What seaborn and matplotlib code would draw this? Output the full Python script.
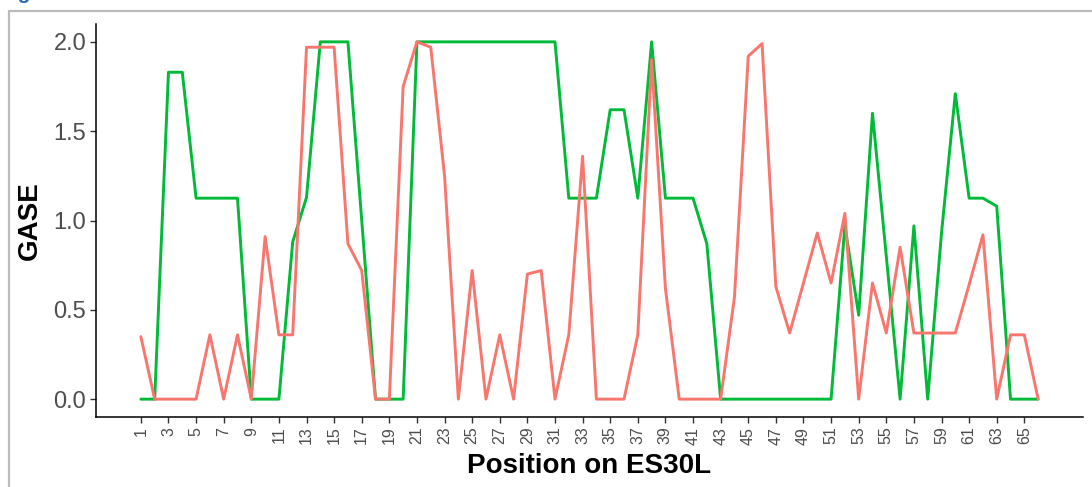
import numpy as np
import pandas as pd
import matplotlib
matplotlib.use("Agg")
import matplotlib.pyplot as plt
from matplotlib.lines import Line2D
import seaborn as sns

# ---- data -------------------------------------------------------------
positions = list(range(1, 67))

green_values = [
    0, 0, 1.83, 1.83, 1.125, 1.125, 1.125, 1.125, 0, 0,          # 1-10
    0, 0.88, 1.13, 2.0, 2.0, 2.0, 1.0, 0, 0, 0,                  # 11-20
    2.0, 2.0, 2.0, 2.0, 2.0, 2.0, 2.0, 2.0, 2.0, 2.0,            # 21-30
    2.0, 1.125, 1.125, 1.125, 1.62, 1.62, 1.125, 2.0, 1.125, 1.125,  # 31-40
    1.125, 0.87, 0, 0, 0, 0, 0, 0, 0, 0,                         # 41-50
    0, 0.97, 0.47, 1.60, 0.80, 0, 0.97, 0, 0.93, 1.71,           # 51-60
    1.125, 1.125, 1.08, 0, 0, 0,                                 # 61-66
]

red_values = [
    0.35, 0, 0, 0, 0, 0.36, 0, 0.36, 0, 0.91,                    # 1-10
    0.36, 0.36, 1.97, 1.97, 1.97, 0.87, 0.72, 0, 0, 1.75,        # 11-20
    2.0, 1.97, 1.25, 0, 0.72, 0, 0.36, 0, 0.70, 0.72,            # 21-30
    0, 0.36, 1.36, 0, 0, 0, 0.36, 1.90, 0.62, 0,                 # 31-40
    0, 0, 0, 0.57, 1.92, 1.99, 0.63, 0.37, 0.65, 0.93,           # 41-50
    0.65, 1.04, 0, 0.65, 0.37, 0.85, 0.37, 0.37, 0.37, 0.37,     # 51-60
    0.64, 0.92, 0, 0.36, 0.36, 0,                                # 61-66
]

series_names = ["Series 1", "Series 2"]
x_tick_labels = [str(v) for v in range(1, 67, 2)]
y_ticks = [0.0, 0.5, 1.0, 1.5, 2.0]
x_label = "Position on ES30L"
y_label = "GASE"

df = pd.DataFrame({
    "Position": positions * 2,
    "GASE": green_values + red_values,
    "Series": [series_names[0]] * len(positions) + [series_names[1]] * len(positions),
})

# ---- style --------------------------------------------------------------
sns.set_theme(style="white")
plt.rcParams["font.family"] = ["Liberation Sans", "DejaVu Sans"]

fig = plt.figure(figsize=(10.92, 4.87), dpi=100)
ax = fig.add_axes([96 / 1092, 1 - 417 / 487, (1083 - 96) / 1092, (417 - 24) / 487])

palette = {series_names[0]: "#00BA38", series_names[1]: "#F8766D"}
sns.lineplot(data=df, x="Position", y="GASE", hue="Series", palette=palette,
             hue_order=series_names, linewidth=2.1, legend=False, ax=ax)

# ggplot-like 5% expansion
xmin, xmax = 1, 66
xr = xmax - xmin
ax.set_xlim(xmin - 0.05 * xr, xmax + 0.05 * xr)
ax.set_ylim(-0.1, 2.1)

ax.set_xticks([int(t) for t in x_tick_labels])
ax.set_xticklabels(x_tick_labels, rotation=90, fontsize=11.5, color="#4D4D4D")
ax.set_yticks(y_ticks)
ax.set_yticklabels([f"{v:.1f}" for v in y_ticks], fontsize=17, color="#4D4D4D")

ax.tick_params(axis="both", which="major", length=4, width=1, color="#333333",
               direction="out", bottom=True, left=True, pad=3)

for side in ["top", "right"]:
    ax.spines[side].set_visible(False)
for side in ["left", "bottom"]:
    ax.spines[side].set_color("black")
    ax.spines[side].set_linewidth(1.1)

ax.set_xlabel(x_label, fontsize=20, fontweight="bold", color="black", labelpad=6)
ax.set_ylabel(y_label, fontsize=20, fontweight="bold", color="black", labelpad=8)

# screenshot frame (gray border) and clipped caption above it
fig.add_artist(Line2D([9 / 1092, 1.0], [1 - 11 / 487, 1 - 11 / 487],
                      transform=fig.transFigure, color="#BBBBBB", linewidth=1.6))
fig.add_artist(Line2D([9 / 1092, 9 / 1092], [0.0, 1 - 11 / 487],
                      transform=fig.transFigure, color="#BBBBBB", linewidth=1.6))
fig.text(0.0, 1.0 + 1 / 487, "Fig", color="#2A6BB5", fontsize=15,
         fontweight="bold", va="baseline", ha="left")

fig.savefig("out.png", dpi=100)
